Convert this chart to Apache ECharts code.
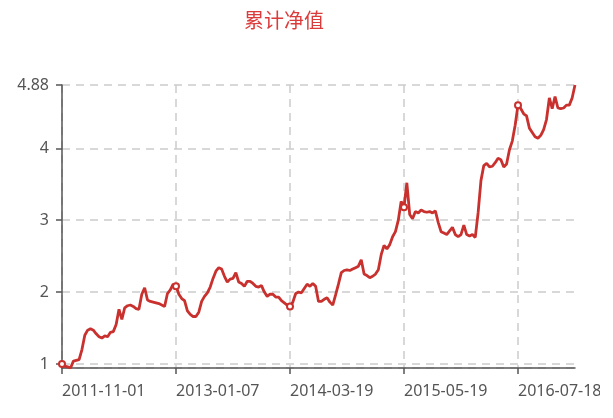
<!DOCTYPE html>
<html>
<head>
<meta charset="utf-8">
<script src="https://cdn.jsdelivr.net/npm/echarts@6/dist/echarts.min.js"></script>
<style>
html,body{margin:0;padding:0;background:#fff;}
#main{width:600px;height:418px;}
</style>
</head>
<body>
<div id="main"></div>
<script>
var titleText = '累计净值';
var seriesName = '累计净值';

var dates = [
'2011-11-01','2011-11-11','2011-11-22','2011-12-02','2011-12-13','2011-12-23','2012-01-05','2012-01-16','2012-01-31','2012-02-10',
'2012-02-21','2012-03-02','2012-03-13','2012-03-23','2012-04-05','2012-04-16','2012-04-26','2012-05-09','2012-05-18','2012-05-30',
'2012-06-11','2012-06-20','2012-07-02','2012-07-12','2012-07-23','2012-08-02','2012-08-13','2012-08-23','2012-09-03','2012-09-13',
'2012-09-24','2012-10-11','2012-10-22','2012-11-01','2012-11-12','2012-11-22','2012-12-03','2012-12-13','2012-12-17','2012-12-27',
'2013-01-07','2013-01-17','2013-01-28','2013-02-07','2013-02-22','2013-03-05','2013-03-15','2013-03-26','2013-04-09','2013-04-19',
'2013-05-02','2013-05-13','2013-05-23','2013-06-03','2013-06-17','2013-06-27','2013-07-08','2013-07-18','2013-07-29','2013-08-08',
'2013-08-19','2013-08-29','2013-09-09','2013-09-23','2013-10-10','2013-10-21','2013-10-31','2013-11-11','2013-11-21','2013-12-02',
'2013-12-12','2013-12-23','2014-01-03','2014-01-14','2014-01-24','2014-02-10','2014-02-20','2014-02-27','2014-03-07','2014-03-13',
'2014-03-19','2014-03-31','2014-04-10','2014-04-22','2014-05-05','2014-05-15','2014-05-26','2014-06-06','2014-06-18','2014-06-30',
'2014-07-10','2014-07-21','2014-07-31','2014-08-11','2014-08-21','2014-09-01','2014-09-11','2014-09-22','2014-10-09','2014-10-20',
'2014-10-30','2014-11-10','2014-11-20','2014-12-01','2014-12-11','2014-12-22','2015-01-05','2015-01-15','2015-01-26','2015-02-05',
'2015-02-16','2015-03-02','2015-03-12','2015-03-23','2015-04-02','2015-04-14','2015-04-24','2015-05-06','2015-05-12','2015-05-15',
'2015-05-19','2015-05-29','2015-06-09','2015-06-19','2015-07-01','2015-07-13','2015-07-23','2015-08-03','2015-08-13','2015-08-24',
'2015-09-07','2015-09-17','2015-10-08','2015-10-19','2015-10-29','2015-11-09','2015-11-19','2015-11-30','2015-12-10','2015-12-21',
'2015-12-31','2016-01-12','2016-01-22','2016-02-02','2016-02-17','2016-02-29','2016-03-10','2016-03-21','2016-03-31','2016-04-12',
'2016-04-22','2016-05-04','2016-05-16','2016-05-26','2016-06-06','2016-06-17','2016-06-29','2016-07-07','2016-07-12','2016-07-14',
'2016-07-18','2016-07-28','2016-08-08','2016-08-18','2016-08-29','2016-09-08','2016-09-21','2016-10-10','2016-10-20','2016-10-31',
'2016-11-10','2016-11-21','2016-12-01','2016-12-12','2016-12-22','2017-01-04','2017-01-16','2017-01-26','2017-02-10','2017-02-20',
'2017-03-02'
];

var navValues = [
1.00,0.97,0.96,0.944,1.04,1.05,1.06,1.20,1.40,1.47,
1.49,1.47,1.42,1.38,1.36,1.39,1.38,1.44,1.45,1.55,
1.76,1.62,1.78,1.81,1.82,1.80,1.77,1.76,1.97,2.06,
1.89,1.87,1.86,1.85,1.84,1.82,1.80,1.98,2.03,2.11,
2.08,1.97,1.91,1.88,1.74,1.69,1.66,1.66,1.72,1.87,
1.94,1.99,2.07,2.19,2.29,2.34,2.32,2.22,2.14,2.18,
2.19,2.27,2.14,2.12,2.08,2.15,2.15,2.12,2.08,2.07,
2.09,2.00,1.94,1.97,1.97,1.93,1.93,1.88,1.85,1.82,
1.80,1.86,1.98,2.00,1.99,2.05,2.11,2.08,2.12,2.08,
1.87,1.87,1.90,1.92,1.86,1.82,1.96,2.11,2.27,2.30,
2.31,2.30,2.32,2.34,2.36,2.45,2.25,2.23,2.20,2.22,
2.25,2.31,2.52,2.65,2.60,2.66,2.77,2.84,3.00,3.26,
3.18,3.52,3.08,3.02,3.12,3.10,3.14,3.12,3.11,3.12,
3.10,3.13,2.97,2.84,2.82,2.80,2.85,2.90,2.80,2.77,
2.80,2.93,2.80,2.78,2.80,2.76,3.10,3.55,3.76,3.79,
3.74,3.75,3.80,3.86,3.84,3.74,3.78,3.98,4.10,4.32,
4.60,4.55,4.48,4.45,4.28,4.22,4.16,4.14,4.18,4.26,
4.40,4.70,4.55,4.72,4.56,4.55,4.56,4.60,4.60,4.70,
4.88
];

var chart = echarts.init(document.getElementById('main'), null, {renderer: 'canvas'});
var axisGrey = '#555';
var option = {
  animation: false,
  backgroundColor: '#fff',
  title: {
    text: titleText,
    left: 239,
    top: 5,
    textStyle: {
      color: '#dc3b3b',
      fontSize: 20,
      fontWeight: 'normal',
      fontFamily: 'Noto Sans CJK SC'
    }
  },
  grid: {left: 62, right: 25, top: 85, bottom: 50, containLabel: false, outerBoundsMode: 'none'},
  xAxis: {
    type: 'category',
    boundaryGap: false,
    data: dates,
    axisLine: {lineStyle: {color: axisGrey, width: 1.5}},
    axisTick: {interval: 39, length: 6, lineStyle: {color: axisGrey, width: 1.5}},
    axisLabel: {
      interval: 39,
      align: 'left',
      margin: 15,
      color: axisGrey,
      fontSize: 16,
      fontFamily: 'Noto Sans'
    },
    splitLine: {
      show: true,
      interval: 39,
      lineStyle: {color: '#ccc', type: [8, 6], width: 1.5}
    }
  },
  yAxis: {
    type: 'value',
    min: 'dataMin',
    max: 'dataMax',
    axisLine: {show: true, lineStyle: {color: axisGrey, width: 1.5}},
    axisTick: {show: true, length: 6, lineStyle: {color: axisGrey, width: 1.5}},
    axisLabel: {
      margin: 13,
      color: axisGrey,
      fontSize: 16,
      fontFamily: 'Noto Sans'
    },
    splitLine: {
      show: true,
      lineStyle: {color: '#ccc', type: [8, 6], width: 1.5}
    }
  },
  series: [{
    name: seriesName,
    type: 'line',
    data: navValues,
    symbol: 'emptyCircle',
    symbolSize: 6,
    showSymbol: true,
    lineStyle: {color: '#c8312e', width: 2.8},
    itemStyle: {color: '#c8312e', borderWidth: 1.5}
  }]
};
chart.setOption(option);
</script>
</body>
</html>
